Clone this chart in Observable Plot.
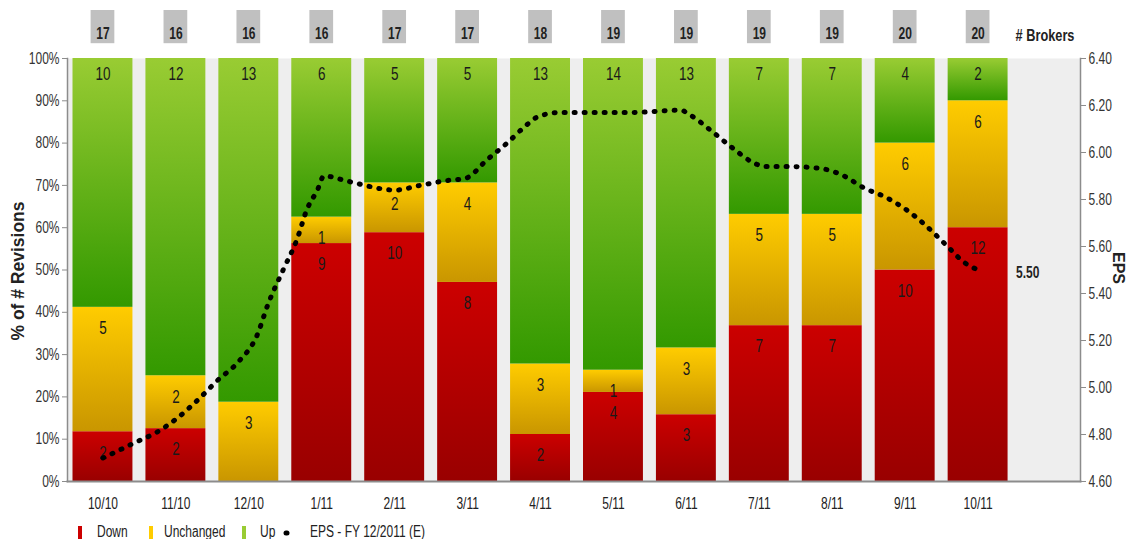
<!DOCTYPE html>
<html>
<head>
<meta charset="utf-8">
<script src="https://cdn.jsdelivr.net/npm/d3@7"></script>
<script src="https://cdn.jsdelivr.net/npm/@observablehq/plot@0.6"></script>
<style>
  html, body { margin: 0; padding: 0; background: #fff; overflow: hidden; }
  #wrap { position: relative; width: 1129px; height: 539px; }
  #legend { position: absolute; left: 0; top: 521px; width: 1129px; height: 24px;
    font-family: "Liberation Sans", Arial, sans-serif; font-size: 16px; color: #222; }
  #legend .sw { position: absolute; top: 5px; width: 4px; height: 14px; }
  #legend .lt { position: absolute; top: 2px; line-height: 18px; white-space: nowrap;
    transform: scaleX(0.75); transform-origin: 0 50%; }
  #legend svg { position: absolute; top: 0; }
</style>
</head>
<body>
<div id="wrap">
  <div id="chart"></div>
  <div id="legend"></div>
</div>
<script>
// ---- data ----
const months    = ["10/10","11/10","12/10","1/11","2/11","3/11","4/11","5/11","6/11","7/11","8/11","9/11","10/11"];
const down      = [2, 2, 0, 9, 10, 8, 2, 4, 3, 7, 7, 10, 12];
const unchanged = [5, 2, 3, 1, 2, 4, 3, 1, 3, 5, 5, 6, 6];
const up        = [10, 12, 13, 6, 5, 5, 13, 14, 13, 7, 7, 4, 2];
const brokers   = [17, 16, 16, 16, 17, 17, 18, 19, 19, 19, 19, 20, 20];

// EPS - FY 12/2011 (E): position in months (0 = 10/10) and value
const epsPos    = [0, 0.47, 0.74, 1.02, 1.31, 1.57, 1.86, 2.11, 2.27, 2.47, 2.66, 2.80, 2.94, 3.03, 3.33, 3.46,
                   4.01, 4.35, 4.70, 4.97, 5.27, 5.54, 5.82, 5.95, 6.25, 6.68, 7.23, 7.92, 8.05, 8.35, 8.63, 8.90,
                   9.08, 9.45, 9.88, 10.16, 10.43, 10.73, 11.00, 11.28, 11.55, 11.82, 12];
const epsValues = [4.70, 4.77, 4.81, 4.87, 4.95, 5.03, 5.11, 5.22, 5.36, 5.50, 5.63, 5.76, 5.84, 5.90, 5.88, 5.87,
                   5.84, 5.86, 5.88, 5.89, 5.97, 6.04, 6.12, 6.15, 6.17, 6.17, 6.17, 6.18, 6.16, 6.09, 6.02, 5.96,
                   5.94, 5.94, 5.93, 5.90, 5.85, 5.81, 5.76, 5.69, 5.61, 5.53, 5.50];

const pctTicks = [0, 10, 20, 30, 40, 50, 60, 70, 80, 90, 100];
const epsTicks = [4.60, 4.80, 5.00, 5.20, 5.40, 5.60, 5.80, 6.00, 6.20, 6.40];
const epsMin = 4.60, epsMax = 6.40;
const categories = ["Down", "Unchanged", "Up"];
const catColors = {
  Down: ["#cc0000", "#990000"],
  Unchanged: ["#ffcc00", "#c99600"],
  Up: ["#99cc33", "#339900"]
};
const legendLabels = ["Down", "Unchanged", "Up", "EPS - FY 12/2011 (E)"];
const leftTitle = "% of # Revisions";
const rightTitle = "EPS";

// ---- derived tables ----
const epsToPct = v => (v - epsMin) / (epsMax - epsMin) * 100;
const pctToEps = p => epsMin + p / 100 * (epsMax - epsMin);

const segs = [];
months.forEach((m, i) => {
  const counts = [down[i], unchanged[i], up[i]];
  const total = d3.sum(counts);
  let acc = 0;
  counts.forEach((n, k) => {
    const y1 = acc / total * 100;
    acc += n;
    segs.push({i, m, k: categories[k], n, y1, y2: acc / total * 100});
  });
});
const table = months.map((m, i) => ({i, m, b: brokers[i]}));
const eps = epsPos.map((x, j) => ({x, v: epsValues[j]}));

const font = `"Liberation Sans", Arial, sans-serif`;

const segMarks = categories.map(k =>
  Plot.rectY(segs.filter(d => d.k === k && d.n > 0), {
    x1: d => d.i - 0.5, x2: d => d.i + 0.5, y1: "y1", y2: "y2",
    insetLeft: 6.5, insetRight: 6.5, fill: `url(#grad${k})`
  })
);
const labelMarks = categories.map(k =>
  Plot.text(segs.filter(d => d.k === k && d.n > 0), {
    x: "i", y: "y2", text: "n", dy: k === "Up" ? 16 : 21,
    fill: "#1a1a1a", fontSize: 18
  })
);

const chart = Plot.plot({
  width: 1129, height: 520,
  marginTop: 58, marginBottom: 39, marginLeft: 67, marginRight: 49,
  style: {fontFamily: font, fontSize: "16px", background: "transparent", overflow: "visible"},
  x: {type: "linear", domain: [-0.5, 13.5], range: [66, 1087]},
  y: {domain: [0, 100]},
  marks: [
    Plot.frame({fill: "#eeeeee", stroke: null}),
    ...segMarks,
    ...labelMarks,
    Plot.line(eps, {x: "x", y: d => epsToPct(d.v), stroke: "#000", strokeWidth: 5,
      strokeDasharray: "1 9", strokeLinecap: "round", curve: "monotone-x"}),
    Plot.text([epsValues[epsValues.length - 1]], {x: () => epsPos[epsPos.length - 1], y: d => epsToPct(d),
      text: d => d.toFixed(2), dx: 38, dy: 3, textAnchor: "start", fontWeight: "bold",
      fill: "#222", fontSize: 16}),
    Plot.frame({anchor: "left", stroke: "#8c8c8c", strokeWidth: 1.5}),
    Plot.frame({anchor: "right", stroke: "#8c8c8c", strokeWidth: 1.5}),
    Plot.frame({anchor: "bottom", stroke: "#8c8c8c", strokeWidth: 2}),
    Plot.axisY({ticks: pctTicks, tickFormat: d => d + "%", tickSize: 5, tickPadding: 3,
      label: null, stroke: "#8c8c8c", fill: "#333", fontSize: 16}),
    Plot.axisY({anchor: "right", ticks: epsTicks.map(epsToPct), tickFormat: d => pctToEps(d).toFixed(2),
      tickSize: 5, tickPadding: 3, label: null, stroke: "#8c8c8c", fill: "#333", fontSize: 16}),
    Plot.axisX({ticks: months.map((m, i) => i), tickFormat: i => months[i], tickSize: 0, tickPadding: 16,
      label: null, fill: "#222", fontSize: 16}),
    // broker boxes
    Plot.rectY(table, {x1: d => d.i - 0.5, x2: d => d.i + 0.5, y1: 103.5, y2: 111.35,
      insetLeft: 24.6, insetRight: 24.6, fill: "#c0c0c0"}),
    Plot.text(table, {x: "i", frameAnchor: "top", dy: -31, text: "b", fontWeight: "bold",
      fill: "#222", fontSize: 16}),
    Plot.text(["# Brokers"], {x: () => months.length - 1, frameAnchor: "top", dy: -30, dx: 37.5,
      textAnchor: "start", fontWeight: "bold", fill: "#222", fontSize: 17}),
    // axis titles
    Plot.text([leftTitle], {frameAnchor: "left", textAnchor: "middle", rotate: -90, dx: -49, dy: 1,
      fontWeight: "bold", fill: "#222", fontSize: 17.5}),
    Plot.text([rightTitle], {frameAnchor: "right", textAnchor: "middle", rotate: 90, dx: 38, dy: -2,
      fontWeight: "bold", fill: "#222", fontSize: 16})
  ]
});

// gradients
const svg = d3.select(chart);
const defs = svg.insert("defs", ":first-child");
categories.forEach(k => {
  const g = defs.append("linearGradient").attr("id", `grad${k}`)
    .attr("x1", 0).attr("y1", 0).attr("x2", 0).attr("y2", 1);
  g.append("stop").attr("offset", "0%").attr("stop-color", catColors[k][0]);
  g.append("stop").attr("offset", "100%").attr("stop-color", catColors[k][1]);
});
document.getElementById("chart").appendChild(chart);

// condensed look of the original's narrow type
svg.selectAll("text").each(function () {
  const t = this.textContent;
  if (t === leftTitle || t === rightTitle) return;
  const L = this.getComputedTextLength();
  if (L > 0) {
    this.setAttribute("textLength", (L * 0.75).toFixed(2));
    this.setAttribute("lengthAdjust", "spacingAndGlyphs");
  }
});

// legend
const legend = d3.select("#legend");
const swatchX = [78, 149, 242];
const textX = [97, 164, 260, 310];
categories.forEach((k, j) => {
  legend.append("span").attr("class", "sw").style("left", swatchX[j] + "px").style("background", catColors[k][0]);
});
legendLabels.forEach((t, j) => {
  legend.append("span").attr("class", "lt").style("left", textX[j] + "px").text(t);
});
const ls = legend.append("svg").attr("width", 24).attr("height", 22).style("left", "282px");
ls.append("line").attr("x1", 4).attr("x2", 14).attr("y1", 12).attr("y2", 12)
  .attr("stroke", "#000").attr("stroke-width", 5).attr("stroke-linecap", "round").attr("stroke-dasharray", "1 9");
</script>
</body>
</html>
